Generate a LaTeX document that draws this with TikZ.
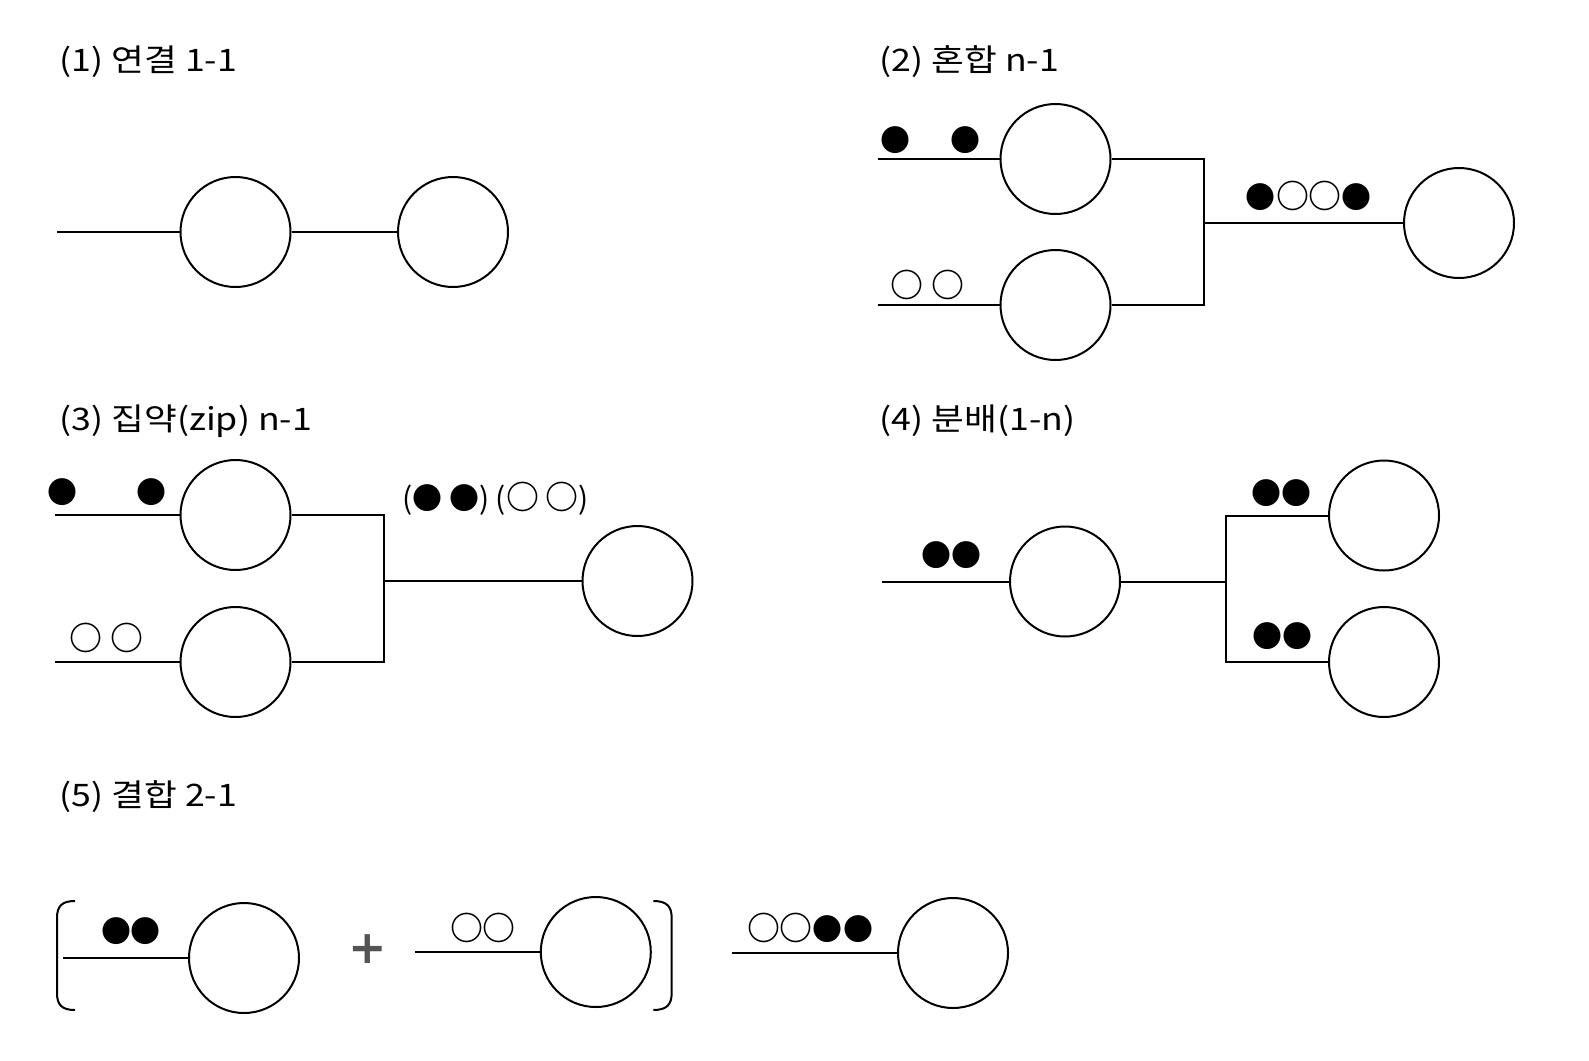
\documentclass[tikz,border=0pt]{standalone}
\usepackage{fontspec}
\setmainfont{Noto Sans CJK KR}
\newfontfamily\titlefont{Noto Sans CJK KR}[FakeStretch=1.15]
\newfontfamily\plusfont{DejaVu Sans}
\newcommand\pb[2]{\makebox[#1pt]{#2}}
\newcommand\wc{{\bfseries\fontsize{33}{33}\selectfont ○}}
\tikzset{
  unit/.style={circle, draw, line width=2pt, minimum size=110pt, inner sep=0pt},
  wire/.style={line width=2pt},
  title/.style={anchor=base west, inner sep=0pt, font=\titlefont\fontsize{31}{36}\selectfont},
  dots/.style={inner sep=0pt, font=\fontsize{30}{30}\selectfont},
}
\begin{document}
\begin{tikzpicture}[x=1pt,y=-1pt]
\useasboundingbox[fill=white] (0,0) rectangle (1589,1060);

% titles
\node[title] (t1) at (59.5,71) {(1) 연결 1-1};
\node[title] (t2) at (879.5,71) {(2) 혼합 n-1};
\node[title] (t3) at (59.5,430) {(3) 집약(zip) n-1};
\node[title] (t4) at (879.5,430) {(4) 분배(1-n)};
\node[title] (t5) at (59.5,806) {(5) 결합 2-1};

% (1)
\coordinate (s1) at (57,232);
\node[unit] (a1) at (235.5,232) {};
\node[unit] (a2) at (453,232) {};
\draw[wire] (s1) -- (a1.west);
\draw[wire] (a1.east) -- (a2.west);

% (2)
\coordinate (s2a) at (878,159);
\coordinate (s2b) at (878,305);
\node[unit] (b1) at (1055.5,159) {};
\node[unit] (b2) at (1055.5,305) {};
\node[unit] (b3) at (1459,223) {};
\coordinate (j2) at (1204,223);
\draw[wire] (s2a) -- (b1.west);
\draw[wire] (s2b) -- (b2.west);
\draw[wire] (b1.east) -- (b1.east -| j2) -- (b2.east -| j2) -- (b2.east);
\draw[wire] (j2) -- (b3.west);
\node[dots] (d2a) at (930,140) {\pb{70}{●}\pb{70}{●}};
\node[dots] (d2b) at (927.5,284.5) {\pb{41}{\wc}\pb{41}{\wc}};
\node[dots] (d2c) at (1308.7,195.5) {\pb{32}{●}\pb{32}{\wc}\pb{32}{\wc}\pb{32}{●}};

% (3)
\coordinate (s3a) at (55,515);
\coordinate (s3b) at (55,662);
\node[unit] (c1) at (235.5,515) {};
\node[unit] (c2) at (235.5,662) {};
\node[unit] (c3) at (637.5,581) {};
\coordinate (j3) at (384,581);
\draw[wire] (s3a) -- (c1.west);
\draw[wire] (s3b) -- (c2.west);
\draw[wire] (c1.east) -- (c1.east -| j3) -- (c2.east -| j3) -- (c2.east);
\draw[wire] (j3) -- (c3.west);
\node[dots] (d3a) at (107,492.5) {\pb{90}{●}\pb{90}{●}};
\node[dots] (d3b) at (106.75,637.5) {\pb{41.5}{\wc}\pb{41.5}{\wc}};
\node[dots] (d3c) at (495.5,499) {(● ●) (\wc{} \wc)};

% (4)
\coordinate (s4) at (882,581.5);
\node[unit] (e1) at (1065,581.5) {};
\node[unit] (e2) at (1384,515.5) {};
\node[unit] (e3) at (1384,662) {};
\coordinate (j4) at (1226,581.5);
\draw[wire] (s4) -- (e1.west);
\draw[wire] (e1.east) -- (j4);
\draw[wire] (e2.west) -- (e2.west -| j4) -- (e3.west -| j4) -- (e3.west);
\node[dots] (d4a) at (951,555.5) {\pb{30}{●}\pb{30}{●}};
\node[dots] (d4b) at (1281,493) {\pb{30}{●}\pb{30}{●}};
\node[dots] (d4c) at (1282.5,636) {\pb{30}{●}\pb{30}{●}};

% (5)
\coordinate (s5a) at (63.3,958);
\coordinate (s5b) at (415,952);
\coordinate (s5c) at (732,953);
\node[unit] (f1) at (244,958) {};
\node[unit] (f2) at (595.8,952) {};
\node[unit] (f3) at (953,953) {};
\draw[wire] (s5a) -- (f1.west);
\draw[wire] (s5b) -- (f2.west);
\draw[wire] (s5c) -- (f3.west);
\node[dots] (d5a) at (130.7,931) {\pb{29}{●}\pb{29}{●}};
\node[dots] (d5b) at (482.8,928) {\pb{32.5}{\wc}\pb{32.5}{\wc}};
\node[dots] (d5c) at (811.7,928) {\pb{31.5}{\wc}\pb{31.5}{\wc}\pb{31.5}{●}\pb{31.5}{●}};
\node[inner sep=0pt, text=black!67, font=\plusfont\bfseries\fontsize{46}{46}\selectfont] (plus) at (367.5,949) {+};
\draw[wire] (75,901) .. controls (62,901) and (57,906) .. (57,918) -- (57,993) .. controls (57,1005) and (62,1010) .. (75,1010);
\draw[wire] (653.3,901) .. controls (666.3,901) and (671.7,906) .. (671.7,918) -- (671.7,993) .. controls (671.7,1005) and (666.3,1010) .. (653.3,1010);
\end{tikzpicture}
\end{document}
